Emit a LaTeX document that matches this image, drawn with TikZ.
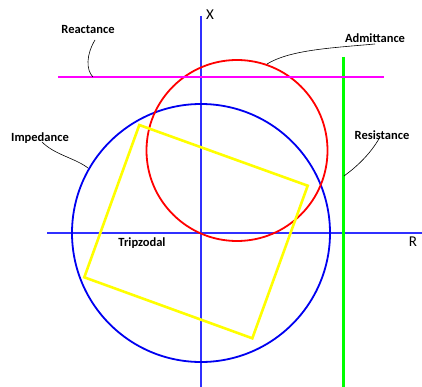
\documentclass[tikz,border=0pt]{standalone}
\usepackage{fontspec}
\setmainfont{Carlito}
\usepackage{tikz}
\usetikzlibrary{positioning}
\definecolor{axisblue}{HTML}{3030FF}
\definecolor{zblue}{HTML}{0000F0}
\definecolor{yred}{HTML}{FF0000}
\definecolor{xmag}{HTML}{FF00FF}
\definecolor{rgreen}{HTML}{00FF00}
\definecolor{tyellow}{HTML}{FFFF00}

\begin{document}
\begin{tikzpicture}[
    x=1pt, y=-1pt,
    lbl/.style={font=\fontsize{12.5}{14}\selectfont\bfseries, inner sep=1pt},
    axlbl/.style={font=\fontsize{15}{17}\selectfont, inner sep=1pt},
    leader/.style={black, line width=0.6pt},
    axis/.style={axisblue, line width=1.2pt},
  ]
  \useasboundingbox (0,0) rectangle (422,387);

  % Axes
  \coordinate (xtop) at (201,16);
  \coordinate (xbot) at (201,387);
  \coordinate (rleft) at (47,233);
  \coordinate (rright) at (422,233);
  \draw[axis] (xtop) -- (xbot);
  \draw[axis] (rleft) -- (rright);
  \node[axlbl] (xlab) at (210,15) {X};
  \node[axlbl] (rlab) at (413,242) {R};

  % Curves
  \draw[zblue, line width=1.8pt] (201,233) circle (129);
  \draw[yred, line width=1.8pt] (237,150.5) circle (90.5);
  \draw[rgreen, line width=2.8pt] (343.5,57) -- (343.5,387);
  \draw[xmag, line width=2.8pt] (58,77) -- (384,77);
  \draw[tyellow, line width=2.6pt, line join=miter]
    (139.3,125) -- (307.7,185.7) -- (252.3,338.3) -- (84.3,277.3) -- cycle;

  % Labels
  \node[lbl] (reac) at (88,29) {Reactance};
  \node[lbl] (imp) at (40,138) {Impedance};
  \node[lbl] (adm) at (375,38) {Admittance};
  \node[lbl] (res) at (382,135) {Resistance};
  \node[lbl] (trip) at (142,243) {Tripzodal};

  % Leaders
  \coordinate (reacpt) at (93,77);
  \coordinate (imppt) at (88,168);
  \coordinate (admpt) at (267,64);
  \coordinate (respt) at (344,176);
  \draw[leader] (95,40) .. controls (86,55) and (86,70) .. (reacpt);
  \draw[leader] (42,142) .. controls (55,155) and (75,158) .. (imppt);
  \draw[leader] (375,44) .. controls (330,48) and (290,50) .. (admpt);
  \draw[leader] (380,137) .. controls (370,155) and (355,168) .. (respt);
\end{tikzpicture}
\end{document}
